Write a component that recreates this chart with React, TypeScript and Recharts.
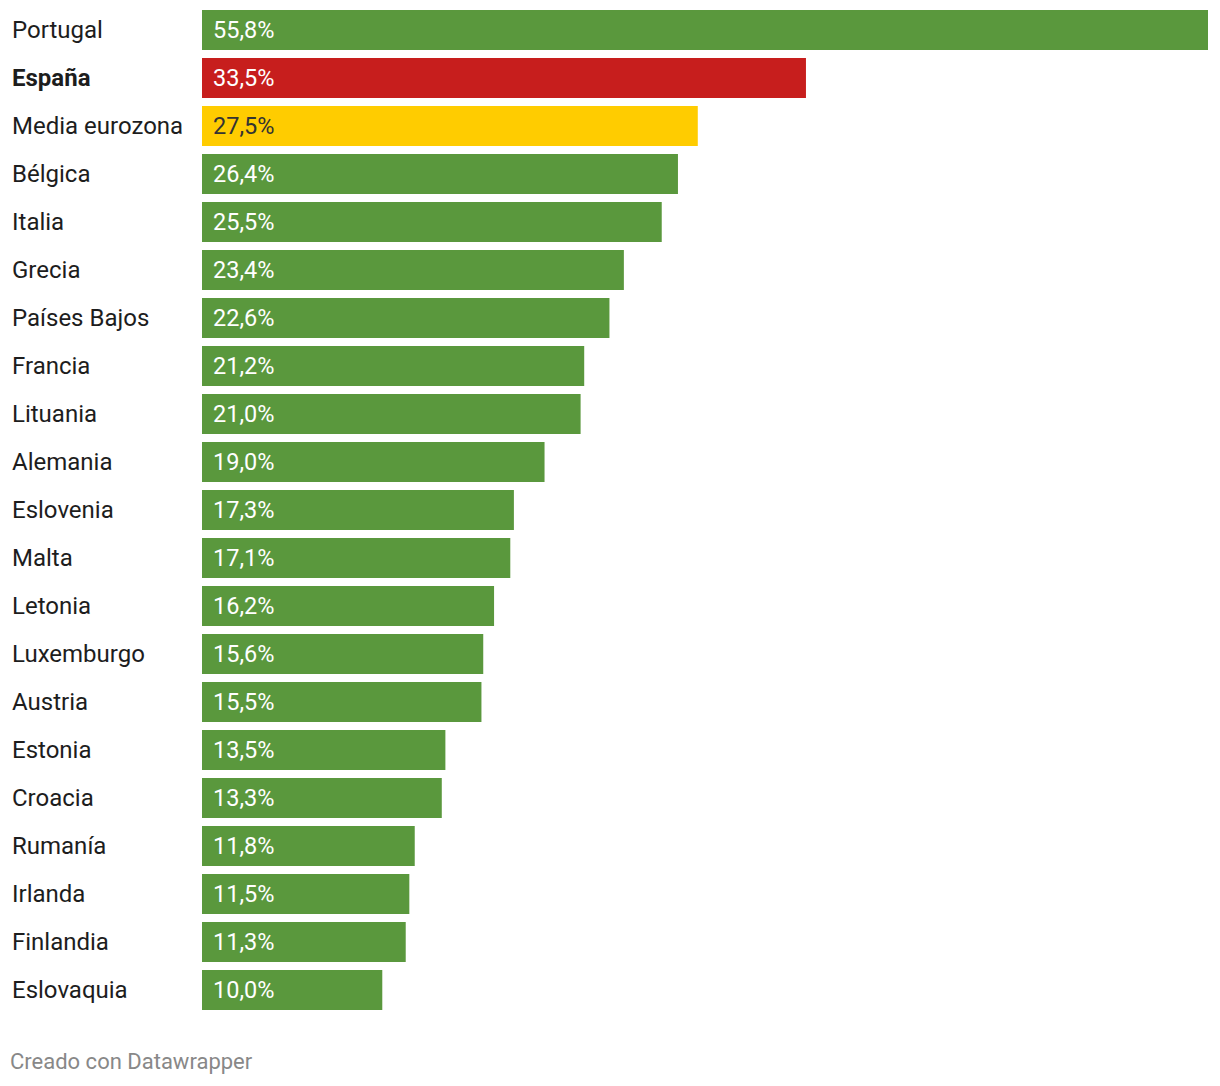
import { BarChart, Bar, XAxis, YAxis, Cell, LabelList } from "recharts";

const paises = [
  "Portugal", "España", "Media eurozona", "Bélgica", "Italia", "Grecia", "Países Bajos",
  "Francia", "Lituania", "Alemania", "Eslovenia", "Malta", "Letonia", "Luxemburgo",
  "Austria", "Estonia", "Croacia", "Rumanía", "Irlanda", "Finlandia", "Eslovaquia",
];
const valores = [
  55.8, 33.5, 27.5, 26.4, 25.5, 23.4, 22.6, 21.2, 21.0, 19.0, 17.3,
  17.1, 16.2, 15.6, 15.5, 13.5, 13.3, 11.8, 11.5, 11.3, 10.0,
];
const destacado: Record<string, string> = { "España": "#c71e1d", "Media eurozona": "#ffcc00" };

const VERDE = "#5a983d";
const FONT = "Roboto, 'Noto Sans', sans-serif";

const dados = paises.map((pais, i) => ({ pais, valor: valores[i] }));

const fmt = (v: number) => v.toFixed(1).replace(".", ",") + "%";

function PaisTick(props: any) {
  const { y, payload } = props;
  const bold = payload.value === "España";
  return (
    <text x={12} y={y} dy={7.5} fontFamily={FONT} fontSize={24} fill="#1d1d1d" fontWeight={bold ? 700 : 400}>
      {payload.value}
    </text>
  );
}

function ValorLabel(props: any) {
  const { x, y, height, value, index } = props;
  const cor = dados[index].pais === "Media eurozona" ? "#333333" : "#ffffff";
  return (
    <text x={x + 11} y={y + height / 2} dy={7.5} fontFamily={FONT} fontSize={23.5} fill={cor}>
      {fmt(value)}
    </text>
  );
}

export default function App() {
  return (
    <div style={{ position: "absolute", left: 0, top: 0, width: 1220, height: 1086, background: "#fff" }}>
      <BarChart
        width={1220}
        height={1020}
        data={dados}
        layout="vertical"
        margin={{ top: 6, right: 12, bottom: 6, left: 0 }}
      >
        <XAxis type="number" domain={[0, 55.8]} hide />
        <YAxis type="category" dataKey="pais" width={202} axisLine={false} tickLine={false} tick={<PaisTick />} interval={0} />
        <Bar dataKey="valor" barSize={40} isAnimationActive={false}>
          {dados.map((d) => (
            <Cell key={d.pais} fill={destacado[d.pais] || VERDE} />
          ))}
          <LabelList dataKey="valor" content={<ValorLabel />} />
        </Bar>
      </BarChart>
      <div style={{ position: "absolute", left: 10, top: 1049, fontFamily: FONT, fontSize: 22, color: "#888" }}>
        Creado con Datawrapper
      </div>
    </div>
  );
}
